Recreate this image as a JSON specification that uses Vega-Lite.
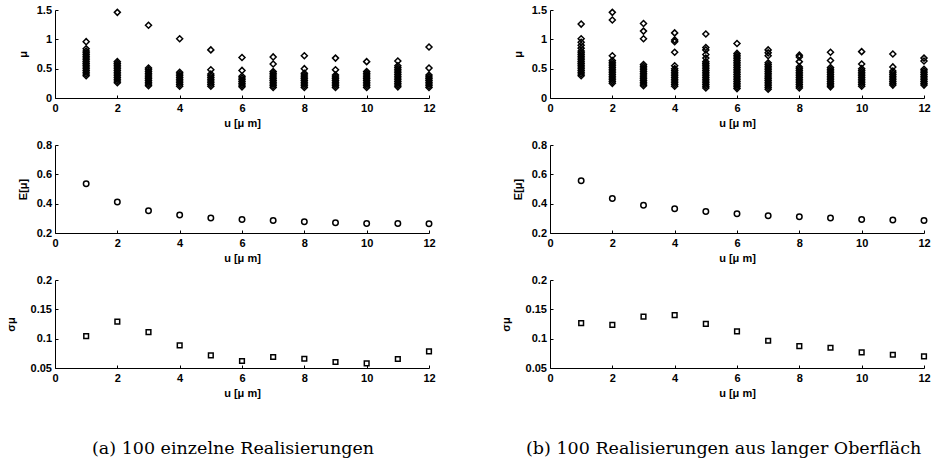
{
"$schema": "https://vega.github.io/schema/vega-lite/v6.json",
"padding": {"left": 5, "top": 4, "right": 0, "bottom": 0},
"background": "white",
"config": {
  "view": {"stroke": null},
  "axis": {"domainColor": "#000", "tickColor": "#000", "labelColor": "#000", "titleColor": "#000",
    "labelFont": "Liberation Sans", "titleFont": "Liberation Sans", "labelFontSize": 11, "labelFontWeight": "bold",
    "titleFontSize": 11, "titleFontWeight": "bold", "grid": false, "tickSize": -3, "labelPadding": 7, "titlePadding": 4, "domainWidth": 1, "tickWidth": 1},
  "axisX": {"labelFlush": false},
  "axisY": {"titlePadding": 8, "labelPadding": 6.5}
},
"datasets": {
  "sa": [
    {"u":1,"m":0.38},{"u":1,"m":0.41},{"u":1,"m":0.44},{"u":1,"m":0.47},{"u":1,"m":0.5},{"u":1,"m":0.53},{"u":1,"m":0.56},{"u":1,"m":0.59},{"u":1,"m":0.62},{"u":1,"m":0.65},{"u":1,"m":0.68},{"u":1,"m":0.71},{"u":1,"m":0.74},{"u":1,"m":0.77},{"u":1,"m":0.8},{"u":1,"m":0.84},{"u":1,"m":0.96},
    {"u":2,"m":0.26},{"u":2,"m":0.29},{"u":2,"m":0.32},{"u":2,"m":0.35},{"u":2,"m":0.38},{"u":2,"m":0.41},{"u":2,"m":0.44},{"u":2,"m":0.47},{"u":2,"m":0.5},{"u":2,"m":0.53},{"u":2,"m":0.56},{"u":2,"m":0.59},{"u":2,"m":0.62},{"u":2,"m":1.46},
    {"u":3,"m":0.21},{"u":3,"m":0.24},{"u":3,"m":0.27},{"u":3,"m":0.3},{"u":3,"m":0.33},{"u":3,"m":0.36},{"u":3,"m":0.39},{"u":3,"m":0.42},{"u":3,"m":0.45},{"u":3,"m":0.48},{"u":3,"m":0.51},{"u":3,"m":1.24},
    {"u":4,"m":0.2},{"u":4,"m":0.23},{"u":4,"m":0.26},{"u":4,"m":0.29},{"u":4,"m":0.32},{"u":4,"m":0.35},{"u":4,"m":0.38},{"u":4,"m":0.41},{"u":4,"m":0.44},{"u":4,"m":1.01},
    {"u":5,"m":0.2},{"u":5,"m":0.23},{"u":5,"m":0.26},{"u":5,"m":0.29},{"u":5,"m":0.32},{"u":5,"m":0.35},{"u":5,"m":0.38},{"u":5,"m":0.41},{"u":5,"m":0.48},{"u":5,"m":0.82},
    {"u":6,"m":0.19},{"u":6,"m":0.22},{"u":6,"m":0.25},{"u":6,"m":0.28},{"u":6,"m":0.31},{"u":6,"m":0.34},{"u":6,"m":0.37},{"u":6,"m":0.47},{"u":6,"m":0.69},
    {"u":7,"m":0.18},{"u":7,"m":0.21},{"u":7,"m":0.24},{"u":7,"m":0.27},{"u":7,"m":0.3},{"u":7,"m":0.33},{"u":7,"m":0.36},{"u":7,"m":0.39},{"u":7,"m":0.42},{"u":7,"m":0.45},{"u":7,"m":0.58},{"u":7,"m":0.7},
    {"u":8,"m":0.18},{"u":8,"m":0.21},{"u":8,"m":0.24},{"u":8,"m":0.27},{"u":8,"m":0.3},{"u":8,"m":0.33},{"u":8,"m":0.36},{"u":8,"m":0.39},{"u":8,"m":0.42},{"u":8,"m":0.5},{"u":8,"m":0.72},
    {"u":9,"m":0.18},{"u":9,"m":0.21},{"u":9,"m":0.24},{"u":9,"m":0.27},{"u":9,"m":0.3},{"u":9,"m":0.33},{"u":9,"m":0.36},{"u":9,"m":0.39},{"u":9,"m":0.48},{"u":9,"m":0.68},
    {"u":10,"m":0.18},{"u":10,"m":0.21},{"u":10,"m":0.24},{"u":10,"m":0.27},{"u":10,"m":0.3},{"u":10,"m":0.33},{"u":10,"m":0.36},{"u":10,"m":0.39},{"u":10,"m":0.42},{"u":10,"m":0.45},{"u":10,"m":0.62},
    {"u":11,"m":0.19},{"u":11,"m":0.22},{"u":11,"m":0.25},{"u":11,"m":0.28},{"u":11,"m":0.31},{"u":11,"m":0.34},{"u":11,"m":0.37},{"u":11,"m":0.4},{"u":11,"m":0.43},{"u":11,"m":0.46},{"u":11,"m":0.49},{"u":11,"m":0.52},{"u":11,"m":0.55},{"u":11,"m":0.63},
    {"u":12,"m":0.18},{"u":12,"m":0.21},{"u":12,"m":0.24},{"u":12,"m":0.27},{"u":12,"m":0.3},{"u":12,"m":0.33},{"u":12,"m":0.36},{"u":12,"m":0.39},{"u":12,"m":0.51},{"u":12,"m":0.87}
  ],
  "sb": [
    {"u":1,"m":0.38},{"u":1,"m":0.41},{"u":1,"m":0.44},{"u":1,"m":0.47},{"u":1,"m":0.5},{"u":1,"m":0.53},{"u":1,"m":0.56},{"u":1,"m":0.59},{"u":1,"m":0.62},{"u":1,"m":0.65},{"u":1,"m":0.68},{"u":1,"m":0.71},{"u":1,"m":0.74},{"u":1,"m":0.77},{"u":1,"m":0.8},{"u":1,"m":0.85},{"u":1,"m":0.9},{"u":1,"m":0.95},{"u":1,"m":1.01},{"u":1,"m":1.26},
    {"u":2,"m":0.25},{"u":2,"m":0.28},{"u":2,"m":0.31},{"u":2,"m":0.34},{"u":2,"m":0.37},{"u":2,"m":0.4},{"u":2,"m":0.43},{"u":2,"m":0.46},{"u":2,"m":0.49},{"u":2,"m":0.52},{"u":2,"m":0.55},{"u":2,"m":0.58},{"u":2,"m":0.61},{"u":2,"m":0.64},{"u":2,"m":0.72},{"u":2,"m":1.33},{"u":2,"m":1.46},
    {"u":3,"m":0.21},{"u":3,"m":0.24},{"u":3,"m":0.27},{"u":3,"m":0.3},{"u":3,"m":0.33},{"u":3,"m":0.36},{"u":3,"m":0.39},{"u":3,"m":0.42},{"u":3,"m":0.45},{"u":3,"m":0.48},{"u":3,"m":0.51},{"u":3,"m":0.54},{"u":3,"m":0.57},{"u":3,"m":1.01},{"u":3,"m":1.14},{"u":3,"m":1.27},
    {"u":4,"m":0.2},{"u":4,"m":0.23},{"u":4,"m":0.26},{"u":4,"m":0.29},{"u":4,"m":0.32},{"u":4,"m":0.35},{"u":4,"m":0.38},{"u":4,"m":0.41},{"u":4,"m":0.44},{"u":4,"m":0.47},{"u":4,"m":0.5},{"u":4,"m":0.55},{"u":4,"m":0.78},{"u":4,"m":0.96},{"u":4,"m":0.99},{"u":4,"m":1.11},
    {"u":5,"m":0.17},{"u":5,"m":0.2},{"u":5,"m":0.23},{"u":5,"m":0.26},{"u":5,"m":0.29},{"u":5,"m":0.32},{"u":5,"m":0.35},{"u":5,"m":0.38},{"u":5,"m":0.41},{"u":5,"m":0.44},{"u":5,"m":0.47},{"u":5,"m":0.5},{"u":5,"m":0.53},{"u":5,"m":0.56},{"u":5,"m":0.59},{"u":5,"m":0.62},{"u":5,"m":0.68},{"u":5,"m":0.74},{"u":5,"m":0.82},{"u":5,"m":0.86},{"u":5,"m":1.09},
    {"u":6,"m":0.16},{"u":6,"m":0.19},{"u":6,"m":0.22},{"u":6,"m":0.25},{"u":6,"m":0.28},{"u":6,"m":0.31},{"u":6,"m":0.34},{"u":6,"m":0.37},{"u":6,"m":0.4},{"u":6,"m":0.43},{"u":6,"m":0.46},{"u":6,"m":0.49},{"u":6,"m":0.52},{"u":6,"m":0.55},{"u":6,"m":0.58},{"u":6,"m":0.61},{"u":6,"m":0.64},{"u":6,"m":0.67},{"u":6,"m":0.7},{"u":6,"m":0.73},{"u":6,"m":0.76},{"u":6,"m":0.93},
    {"u":7,"m":0.15},{"u":7,"m":0.18},{"u":7,"m":0.21},{"u":7,"m":0.24},{"u":7,"m":0.27},{"u":7,"m":0.3},{"u":7,"m":0.33},{"u":7,"m":0.36},{"u":7,"m":0.39},{"u":7,"m":0.42},{"u":7,"m":0.45},{"u":7,"m":0.48},{"u":7,"m":0.51},{"u":7,"m":0.54},{"u":7,"m":0.57},{"u":7,"m":0.6},{"u":7,"m":0.72},{"u":7,"m":0.77},{"u":7,"m":0.82},
    {"u":8,"m":0.17},{"u":8,"m":0.2},{"u":8,"m":0.23},{"u":8,"m":0.26},{"u":8,"m":0.29},{"u":8,"m":0.32},{"u":8,"m":0.35},{"u":8,"m":0.38},{"u":8,"m":0.41},{"u":8,"m":0.44},{"u":8,"m":0.47},{"u":8,"m":0.5},{"u":8,"m":0.53},{"u":8,"m":0.62},{"u":8,"m":0.7},{"u":8,"m":0.73},
    {"u":9,"m":0.19},{"u":9,"m":0.22},{"u":9,"m":0.25},{"u":9,"m":0.28},{"u":9,"m":0.31},{"u":9,"m":0.34},{"u":9,"m":0.37},{"u":9,"m":0.4},{"u":9,"m":0.43},{"u":9,"m":0.46},{"u":9,"m":0.49},{"u":9,"m":0.52},{"u":9,"m":0.64},{"u":9,"m":0.78},
    {"u":10,"m":0.2},{"u":10,"m":0.23},{"u":10,"m":0.26},{"u":10,"m":0.29},{"u":10,"m":0.32},{"u":10,"m":0.35},{"u":10,"m":0.38},{"u":10,"m":0.41},{"u":10,"m":0.44},{"u":10,"m":0.47},{"u":10,"m":0.5},{"u":10,"m":0.58},{"u":10,"m":0.79},
    {"u":11,"m":0.22},{"u":11,"m":0.25},{"u":11,"m":0.28},{"u":11,"m":0.31},{"u":11,"m":0.34},{"u":11,"m":0.37},{"u":11,"m":0.4},{"u":11,"m":0.43},{"u":11,"m":0.46},{"u":11,"m":0.53},{"u":11,"m":0.75},
    {"u":12,"m":0.22},{"u":12,"m":0.25},{"u":12,"m":0.28},{"u":12,"m":0.31},{"u":12,"m":0.34},{"u":12,"m":0.37},{"u":12,"m":0.4},{"u":12,"m":0.43},{"u":12,"m":0.46},{"u":12,"m":0.49},{"u":12,"m":0.63},{"u":12,"m":0.68}
  ],
  "ea": [
    {"u":1,"v":0.536},{"u":2,"v":0.412},{"u":3,"v":0.351},{"u":4,"v":0.322},{"u":5,"v":0.302},{"u":6,"v":0.292},{"u":7,"v":0.286},{"u":8,"v":0.277},{"u":9,"v":0.27},{"u":10,"v":0.265},{"u":11,"v":0.265},{"u":12,"v":0.263}
  ],
  "eb": [
    {"u":1,"v":0.556},{"u":2,"v":0.435},{"u":3,"v":0.389},{"u":4,"v":0.365},{"u":5,"v":0.347},{"u":6,"v":0.331},{"u":7,"v":0.317},{"u":8,"v":0.311},{"u":9,"v":0.302},{"u":10,"v":0.292},{"u":11,"v":0.288},{"u":12,"v":0.286}
  ],
  "da": [
    {"u":1,"v":0.1043},{"u":2,"v":0.129},{"u":3,"v":0.111},{"u":4,"v":0.0885},{"u":5,"v":0.0715},{"u":6,"v":0.0619},{"u":7,"v":0.0687},{"u":8,"v":0.0658},{"u":9,"v":0.0602},{"u":10,"v":0.0579},{"u":11,"v":0.0653},{"u":12,"v":0.0783}
  ],
  "db": [
    {"u":1,"v":0.1264},{"u":2,"v":0.1236},{"u":3,"v":0.1377},{"u":4,"v":0.14},{"u":5,"v":0.1253},{"u":6,"v":0.1123},{"u":7,"v":0.0964},{"u":8,"v":0.0874},{"u":9,"v":0.0845},{"u":10,"v":0.0766},{"u":11,"v":0.0726},{"u":12,"v":0.0698}
  ]
},
"spacing": 64,
"hconcat": [
  {
    "spacing": 47,
    "bounds": "flush",
    "title": {"text": "(a) 100 einzelne Realisierungen", "orient": "bottom", "anchor": "start", "frame": "group", "dx": 37, "offset": 42, "font": "DejaVu Serif", "fontSize": 17.5, "fontWeight": "normal", "color": "#000"},
    "vconcat": [
      {"width": 374, "height": 88, "data": {"name": "sa"},
       "mark": {"type": "point", "shape": "diamond", "filled": false, "size": 36, "strokeWidth": 1.5, "color": "#000", "opacity": 1},
       "encoding": {
         "x": {"field": "u", "type": "quantitative", "scale": {"domain": [0, 12], "nice": false}, "axis": {"title": "u [μ m]", "values": [0,2,4,6,8,10,12], "format": "~g"}},
         "y": {"field": "m", "type": "quantitative", "scale": {"domain": [0, 1.5], "nice": false}, "axis": {"title": "μ", "values": [0,0.5,1,1.5], "format": "~g"}}
       }},
      {"width": 374, "height": 88, "data": {"name": "ea"},
       "mark": {"type": "point", "shape": "circle", "filled": false, "size": 30, "strokeWidth": 1.5, "color": "#000", "opacity": 1},
       "encoding": {
         "x": {"field": "u", "type": "quantitative", "scale": {"domain": [0, 12], "nice": false}, "axis": {"title": "u [μ m]", "values": [0,2,4,6,8,10,12], "format": "~g"}},
         "y": {"field": "v", "type": "quantitative", "scale": {"domain": [0.2, 0.8], "nice": false, "zero": false}, "axis": {"title": "E[μ]", "values": [0.2,0.4,0.6,0.8], "format": "~g"}}
       }},
      {"width": 374, "height": 88, "data": {"name": "da"},
       "mark": {"type": "point", "shape": "square", "filled": false, "size": 22, "strokeWidth": 1.5, "color": "#000", "opacity": 1},
       "encoding": {
         "x": {"field": "u", "type": "quantitative", "scale": {"domain": [0, 12], "nice": false}, "axis": {"title": "u [μ m]", "values": [0,2,4,6,8,10,12], "format": "~g"}},
         "y": {"field": "v", "type": "quantitative", "scale": {"domain": [0.05, 0.2], "nice": false, "zero": false}, "axis": {"title": "σμ", "titlePadding": 14, "values": [0.05,0.1,0.15,0.2], "format": "~g"}}
       }}
    ]
  },
  {
    "spacing": 47,
    "bounds": "flush",
    "title": {"text": "(b) 100 Realisierungen aus langer Oberfläch", "orient": "bottom", "anchor": "start", "frame": "group", "dx": -24, "offset": 42, "font": "DejaVu Serif", "fontSize": 17.5, "fontWeight": "normal", "color": "#000"},
    "vconcat": [
      {"width": 374, "height": 88, "data": {"name": "sb"},
       "mark": {"type": "point", "shape": "diamond", "filled": false, "size": 36, "strokeWidth": 1.5, "color": "#000", "opacity": 1},
       "encoding": {
         "x": {"field": "u", "type": "quantitative", "scale": {"domain": [0, 12], "nice": false}, "axis": {"title": "u [μ m]", "values": [0,2,4,6,8,10,12], "format": "~g"}},
         "y": {"field": "m", "type": "quantitative", "scale": {"domain": [0, 1.5], "nice": false}, "axis": {"title": "μ", "values": [0,0.5,1,1.5], "format": "~g"}}
       }},
      {"width": 374, "height": 88, "data": {"name": "eb"},
       "mark": {"type": "point", "shape": "circle", "filled": false, "size": 30, "strokeWidth": 1.5, "color": "#000", "opacity": 1},
       "encoding": {
         "x": {"field": "u", "type": "quantitative", "scale": {"domain": [0, 12], "nice": false}, "axis": {"title": "u [μ m]", "values": [0,2,4,6,8,10,12], "format": "~g"}},
         "y": {"field": "v", "type": "quantitative", "scale": {"domain": [0.2, 0.8], "nice": false, "zero": false}, "axis": {"title": "E[μ]", "values": [0.2,0.4,0.6,0.8], "format": "~g"}}
       }},
      {"width": 374, "height": 88, "data": {"name": "db"},
       "mark": {"type": "point", "shape": "square", "filled": false, "size": 22, "strokeWidth": 1.5, "color": "#000", "opacity": 1},
       "encoding": {
         "x": {"field": "u", "type": "quantitative", "scale": {"domain": [0, 12], "nice": false}, "axis": {"title": "u [μ m]", "values": [0,2,4,6,8,10,12], "format": "~g"}},
         "y": {"field": "v", "type": "quantitative", "scale": {"domain": [0.05, 0.2], "nice": false, "zero": false}, "axis": {"title": "σμ", "titlePadding": 14, "values": [0.05,0.1,0.15,0.2], "format": "~g"}}
       }}
    ]
  }
]
}
